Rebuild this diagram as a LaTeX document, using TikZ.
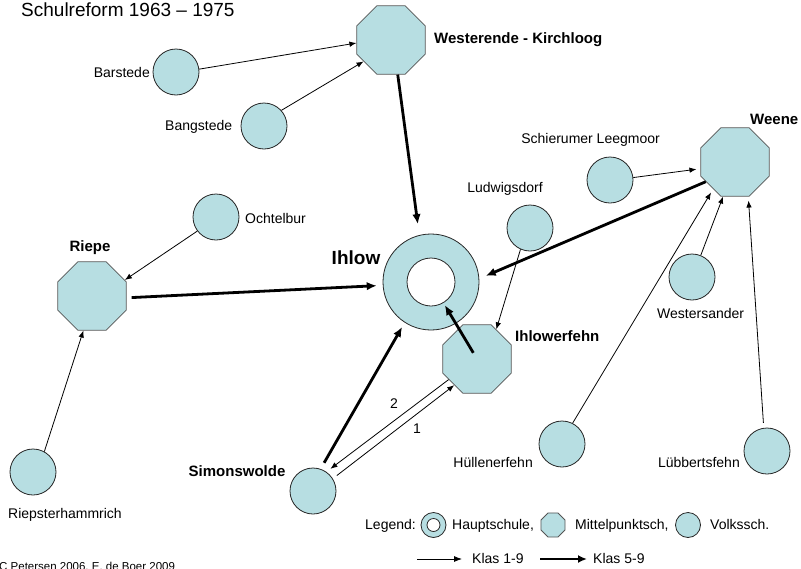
\documentclass[tikz,border=0pt]{standalone}
\usepackage{fontspec}
\setmainfont{Liberation Sans}
\usetikzlibrary{shapes.geometric,arrows.meta,calc}
\definecolor{tealfill}{RGB}{183,222,226}
\definecolor{octline}{RGB}{85,85,85}
\begin{document}
\begin{tikzpicture}[x=1pt,y=-1pt,
  vs/.style={circle,draw=black!85,line width=0.8pt,fill=tealfill,minimum size=46pt,inner sep=0pt},
  ms/.style={regular polygon,regular polygon sides=8,draw=octline,line width=0.8pt,fill=tealfill,minimum size=74pt,inner sep=0pt},
  lbl/.style={font=\fontsize{14}{16}\selectfont,inner sep=0pt},
  blbl/.style={font=\fontsize{15}{17}\selectfont\bfseries,inner sep=0pt},
  thinarr/.style={-{Latex[length=7pt,width=5.5pt]},line width=0.8pt},
  thickarr/.style={-{Latex[length=10pt,width=8.5pt]},line width=2.8pt},
]
\useasboundingbox (0,0) rectangle (801,568);

% schools
\node[ms] (westerende) at (391,40) {};
\node[vs] (barstede) at (176,72) {};
\node[vs] (bangstede) at (264,126) {};
\node[ms] (weene) at (735,162) {};
\node[vs] (schierumer) at (610,180) {};
\node[vs] (ludwigsdorf) at (530,228) {};
\node[vs] (ochtelbur) at (216,217) {};
\node[ms] (riepe) at (92,296) {};
\node[circle,draw=black!85,line width=0.8pt,fill=tealfill,minimum size=96pt,inner sep=0pt] (ihlow) at (431,282) {};
\node[circle,draw=black!85,line width=0.8pt,fill=white,minimum size=48pt,inner sep=0pt] (ihlowin) at (ihlow) {};
\node[vs] (westersander) at (692,277) {};
\node[ms] (ihlowerfehn) at (477,359) {};
\node[vs] (huellenerfehn) at (562,444) {};
\node[vs] (luebbertsfehn) at (767,451) {};
\node[vs] (simonswolde) at (313,491) {};
\node[vs] (riepsterhammrich) at (33,472) {};

% labels
\node[inner sep=0pt,font=\fontsize{19}{21}\selectfont,anchor=base west] (title) at (21,16.5) {Schulreform 1963 – 1975};
\node[blbl,anchor=base west] (lwesterende) at (434,43.5) {Westerende - Kirchloog};
\node[lbl,anchor=base east] (lbarstede) at (150,77) {Barstede};
\node[lbl,anchor=base west] (lbangstede) at (165,130) {Bangstede};
\node[blbl,anchor=base west] (lweene) at (750,124) {Weene};
\node[lbl,anchor=base east] (lschierumer) at (660,143) {Schierumer Leegmoor};
\node[lbl,anchor=base east] (lludwigsdorf) at (543,192) {Ludwigsdorf};
\node[lbl,anchor=base west] (lochtelbur) at (245,223) {Ochtelbur};
\node[blbl,anchor=base] (lriepe) at (90,251.5) {Riepe};
\node[inner sep=0pt,font=\fontsize{19}{21}\selectfont\bfseries,anchor=base] (lihlow) at (356,264) {Ihlow};
\node[lbl,anchor=base west] (lwestersander) at (657,318) {Westersander};
\node[blbl,anchor=base west] (lihlowerfehn) at (515,341) {Ihlowerfehn};
\node[lbl,anchor=base east] (lhuellenerfehn) at (533,467) {Hüllenerfehn};
\node[lbl,anchor=base east] (lluebbertsfehn) at (740,467) {Lübbertsfehn};
\node[blbl,anchor=base] (lsimonswolde) at (237,476) {Simonswolde};
\node[lbl,anchor=base] (lriepsterhammrich) at (65,518) {Riepsterhammrich};
\node[lbl,anchor=base] (ltwo) at (394,408) {2};
\node[lbl,anchor=base] (lone) at (417,433) {1};

% connectors
\draw[thinarr] (barstede.7) -- (westerende.185);
\draw[thinarr] (bangstede.42) -- (westerende.218);
\draw[thickarr,shorten >=11pt] (westerende.281) -- (ihlow.104);
\draw[thinarr] (ochtelbur.217) -- (riepe.26);
\draw[thickarr,shorten <=5pt,shorten >=6pt] (riepe.357) -- (ihlow.184);
\draw[thinarr] (riepsterhammrich.61) -- (riepe.256);
\draw[thinarr,shorten >=4pt] (schierumer.6) -- (weene.191);
\draw[thickarr,shorten >=7pt] (weene.214) -- (ihlow.4);
\draw[thinarr] (ludwigsdorf.246) -- (ihlowerfehn.57);
\draw[thinarr] (westersander.68) -- (weene.251);
\draw[thinarr,shorten >=4pt] (huellenerfehn.63) -- (weene.231);
\draw[thinarr,shorten <=5pt,shorten >=4pt] (luebbertsfehn.98) -- (weene.291);
\draw[thickarr,shorten <=7pt,shorten >=5pt] (simonswolde.71) -- (ihlow.237);
\draw[thickarr] ($(ihlowerfehn)!0.08!(ihlow)$) -- ($(ihlowerfehn)!0.70!(ihlow)$);
\draw[thinarr,shorten >=5pt] (ihlowerfehn.216) -- (simonswolde.55);
\draw[thinarr,shorten <=5pt] (simonswolde.32) -- (ihlowerfehn.229);

% legend
\node[lbl,anchor=base west] (llegend) at (365,529) {Legend:};
\node[circle,draw=black!85,line width=0.8pt,fill=tealfill,minimum size=25pt,inner sep=0pt] (legring) at (433.5,525) {};
\node[circle,draw=black!85,line width=0.8pt,fill=white,minimum size=13pt,inner sep=0pt] (legringin) at (legring) {};
\node[lbl,anchor=base west] (lhaupt) at (452,529) {Hauptschule,};
\node[regular polygon,regular polygon sides=8,draw=octline,line width=0.8pt,fill=tealfill,minimum size=26pt,inner sep=0pt] (legoct) at (553,525) {};
\node[lbl,anchor=base west] (lmittel) at (575,529) {Mittelpunktsch,};
\node[vs,minimum size=25pt] (legcirc) at (688,525) {};
\node[lbl,anchor=base west] (lvolks) at (710,529) {Volkssch.};
\coordinate (la1) at (417,559);
\coordinate (lb1) at (462,559);
\coordinate (la2) at (540,559);
\coordinate (lb2) at (587,559);
\draw[thinarr,-{Latex[length=8pt,width=6pt]}] (la1) -- (lb1);
\draw[thickarr,-{Latex[length=9pt,width=8pt]},line width=2.4pt] (la2) -- (lb2);
\node[lbl,anchor=base west] (lklas1) at (472,563) {Klas 1-9};
\node[lbl,anchor=base west] (lklas2) at (593,563) {Klas 5-9};

% credit (cut off by the page edge, as in the reference)
\begin{scope}
\clip (0,0) rectangle (801,568);
\node[inner sep=0pt,font=\fontsize{11.5}{13}\selectfont,anchor=base west] (credit) at (-1,570) {C Petersen 2006, E. de Boer 2009};
\end{scope}
\end{tikzpicture}
\end{document}
